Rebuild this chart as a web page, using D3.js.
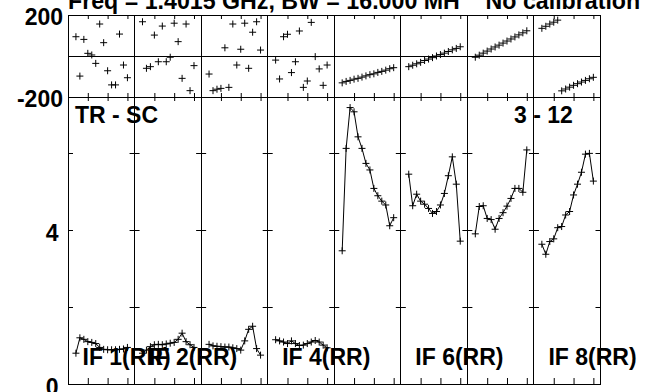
<!DOCTYPE html>
<html>
<head>
<meta charset="utf-8">
<script src="https://cdn.jsdelivr.net/npm/d3@7"></script>
<style>
  html, body { margin: 0; padding: 0; background: #fff; }
  svg { display: block; }
  text { font-family: "Liberation Sans", Arial, Helvetica, sans-serif; font-weight: bold; fill: #000; }
</style>
</head>
<body>
<div id="chart"></div>
<script>
// ---------------- data ----------------
const titleText = "Freq = 1.4015 GHz, BW = 16.000 MH    No calibration";
const baselineLabel = "TR - SC";
const scanLabel = "3 - 12";
const ifLabels = ["IF 1(RR)", "IF 2(RR)", "", "IF 4(RR)", "", "IF 6(RR)", "", "IF 8(RR)"];
const channels = [2, 3, 4, 5, 6, 7, 8, 9, 10, 11, 12, 13, 14, 15];
const channelTicks = [5, 10, 15];
const phaseTicks = [200, -200];
const phaseTickLabels = ["200", "-200"];
const ampTicks = [2, 4, 6];
const ampLabelTicks = [4, 0];
const ampTickLabels = ["4", "0"];

const phaseIF1 = [94, -98, 81, 13, 5, -36, 156, 65, -72, -141, -141, 107, -44, -106];
const phaseIF2 = [167, -60, -52, 102, -28, 146, -28, -6, 160, 70, -109, 156, -169, -47];
const phaseIF3 = [-88, -169, -162, -158, 40, -153, 156, -44, 33, 160, -60, 116, 167, 29];
const phaseIF4 = [-20, -112, 94, 106, -81, -28, 122, -153, -122, 164, -3, -63, -143, -44];
const phaseIF5 = [-131, -124, -119, -113, -109, -103, -97, -91, -87, -80, -75, -69, -62, -57];
const phaseIF6 = [-52, -45, -38, -31, -22, -15, -8, 0, 7, 14, 22, 30, 37, 45];
const phaseIF7 = [-6, 4, 14, 24, 34, 44, 53, 63, 73, 83, 93, 103, 113, 123];
const phaseIF8 = [135, 145, 156, 165, 175, -170, -161, -152, -143, -135, -127, -119, -111, -104];

const ampIF1 = [0.80, 1.20, 1.16, 1.10, 1.08, 1.05, 0.95, 0.90, 0.89, 0.89, 0.89, 0.90, 0.91, 0.95];
const ampIF2 = [0.80, 0.88, 0.97, 1.02, 1.03, 1.02, 1.04, 1.06, 1.08, 1.16, 1.32, 1.10, 1.02, 0.95];
const ampIF3 = [1.03, 0.99, 0.98, 0.97, 0.96, 0.96, 0.94, 0.92, 0.88, 1.12, 1.42, 1.50, 0.92, 0.75];
const ampIF4 = [1.15, 1.12, 1.09, 1.05, 1.12, 1.05, 1.00, 1.01, 1.05, 1.09, 1.13, 1.09, 1.01, 0.94];
const ampIF5 = [3.46, 6.12, 7.18, 7.07, 6.42, 6.12, 5.73, 5.56, 5.08, 4.89, 4.75, 4.65, 4.11, 4.32];
const ampIF6 = [5.45, 4.63, 4.93, 4.75, 4.67, 4.56, 4.43, 4.48, 4.65, 4.95, 5.41, 5.90, 5.19, 3.71];
const ampIF7 = [3.90, 4.61, 4.63, 4.30, 4.27, 4.02, 4.30, 4.45, 4.62, 4.82, 5.08, 5.08, 4.98, 6.08];
const ampIF8 = [3.63, 3.37, 3.70, 3.77, 4.06, 4.09, 4.39, 4.48, 4.91, 5.19, 5.50, 5.97, 5.99, 5.27];

const phaseSeries = [phaseIF1, phaseIF2, phaseIF3, phaseIF4, phaseIF5, phaseIF6, phaseIF7, phaseIF8];
const ampSeries = [ampIF1, ampIF2, ampIF3, ampIF4, ampIF5, ampIF6, ampIF7, ampIF8];

// ---------------- layout ----------------
const W = 645, H = 392;
const plotLeft = 68, plotRight = 600.5;
const phaseTop = 15, phaseBottom = 97, ampBottom = 384;
const nPanels = phaseSeries.length;
const panelW = (plotRight - plotLeft) / nPanels;
const fs = 23;

const svg = d3.select("#chart").append("svg")
  .attr("width", W).attr("height", H)
  .attr("viewBox", `0 0 ${W} ${H}`);

const xPanel = d3.scaleLinear().domain([0, 16.8]).range([0, panelW]);
const yPhase = d3.scaleLinear().domain([-200, 200]).range([phaseBottom, phaseTop]);
const yAmp = d3.scaleLinear().domain([0, (ampBottom - phaseBottom) / 38.5]).range([ampBottom, phaseBottom]);
const panelX = i => plotLeft + i * panelW;

const plusPath = "M-3.5,0H3.5M0,-3.5V3.5";

function cleanAxis(g) {
  g.select(".domain").remove();
  g.selectAll(".tick line").attr("stroke", "#000").attr("stroke-width", 1);
  g.selectAll(".tick text").remove();
}

// panels
for (let i = 0; i < nPanels; i++) {
  const g = svg.append("g").attr("transform", `translate(${panelX(i)},0)`);

  // x ticks
  g.append("g").attr("transform", `translate(0,${phaseTop})`)
    .call(d3.axisBottom(xPanel).tickValues(channelTicks).tickSize(4)).call(cleanAxis);
  g.append("g").attr("transform", `translate(0,${phaseBottom})`)
    .call(d3.axisTop(xPanel).tickValues(channelTicks).tickSize(4)).call(cleanAxis);
  g.append("g").attr("transform", `translate(0,${phaseBottom})`)
    .call(d3.axisBottom(xPanel).tickValues(channelTicks).tickSize(4)).call(cleanAxis);
  g.append("g").attr("transform", `translate(0,${ampBottom})`)
    .call(d3.axisTop(xPanel).tickValues(channelTicks).tickSize(6)).call(cleanAxis);

  // y ticks on amplitude panel borders
  g.append("g").attr("transform", `translate(0,0)`)
    .call(d3.axisRight(yAmp).tickValues(ampTicks).tickSize(5)).call(cleanAxis);
  g.append("g").attr("transform", `translate(${panelW},0)`)
    .call(d3.axisLeft(yAmp).tickValues(ampTicks).tickSize(5)).call(cleanAxis);

  // phase points
  const pdata = channels.map((c, k) => ({ c, v: phaseSeries[i][k] }));
  g.selectAll("path.ph").data(pdata).join("path")
    .attr("class", "ph")
    .attr("d", plusPath)
    .attr("transform", d => `translate(${xPanel(d.c)},${yPhase(d.v)})`)
    .attr("fill", "none").attr("stroke", "#000").attr("stroke-width", 1);

  // amplitude line + points
  const adata = channels.map((c, k) => ({ c, v: ampSeries[i][k] }));
  g.append("path").datum(adata)
    .attr("d", d3.line().x(d => xPanel(d.c)).y(d => yAmp(d.v)))
    .attr("fill", "none").attr("stroke", "#000").attr("stroke-width", 1);
  g.selectAll("path.am").data(adata).join("path")
    .attr("class", "am")
    .attr("d", plusPath)
    .attr("transform", d => `translate(${xPanel(d.c)},${yAmp(d.v)})`)
    .attr("fill", "none").attr("stroke", "#000").attr("stroke-width", 1);
}

// frame lines
const frame = svg.append("g").attr("stroke", "#000").attr("stroke-width", 1).attr("shape-rendering", "crispEdges");
[phaseTop, yPhase(0), phaseBottom, ampBottom].forEach(y => {
  frame.append("line").attr("x1", plotLeft).attr("x2", plotRight).attr("y1", y).attr("y2", y);
});
d3.range(nPanels + 1).forEach(i => {
  frame.append("line").attr("x1", panelX(i)).attr("x2", panelX(i)).attr("y1", phaseTop).attr("y2", ampBottom);
});

// axis labels
phaseTicks.forEach((t, k) => {
  svg.append("text").attr("x", 63).attr("y", yPhase(t) + 10)
    .attr("text-anchor", "end").attr("font-size", fs).text(phaseTickLabels[k]);
});
ampLabelTicks.forEach((t, k) => {
  svg.append("text").attr("x", 58.5).attr("y", yAmp(t) + 10.5)
    .attr("text-anchor", "end").attr("font-size", fs).text(ampTickLabels[k]);
});

// title
svg.append("text").attr("x", 68).attr("y", 9)
  .attr("font-size", 23.2).style("white-space", "pre").text(titleText);

// panel annotations
svg.append("text").attr("x", 75).attr("y", 123).attr("font-size", fs).text(baselineLabel);
svg.append("text").attr("x", 514).attr("y", 123).attr("font-size", fs).text(scanLabel);

ifLabels.forEach((lab, i) => {
  if (!lab) return;
  svg.append("text").attr("x", panelX(i) + 14.5).attr("y", 365)
    .attr("font-size", fs).text(lab);
});
</script>
</body>
</html>
